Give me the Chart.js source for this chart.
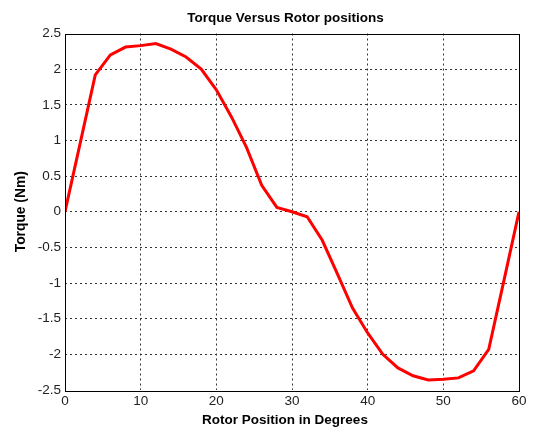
<!DOCTYPE html>
<html>
<head>
<meta charset="utf-8">
<script src="https://cdn.jsdelivr.net/npm/chart.js@4"></script>
<style>
  html, body { margin: 0; padding: 0; background: #fff; }
  #wrap { width: 533px; height: 428px; }
</style>
</head>
<body>
<div id="wrap"><canvas id="torqueChart" width="533" height="428"></canvas></div>
<script>
// Rotor position (degrees) and torque (Nm)
const positions = [0, 2, 4, 6, 8, 10, 12, 14, 16, 18, 20, 22, 24, 26, 28, 30, 32, 34, 36, 38, 40, 42, 44, 46, 48, 50, 52, 54, 56, 58, 60];
const torque = [0, 0.96, 1.92, 2.2, 2.31, 2.33, 2.36, 2.28, 2.17, 2.0, 1.71, 1.33, 0.9, 0.37, 0.06, 0.0, -0.07, -0.4, -0.87, -1.35, -1.7, -2.0, -2.19, -2.3, -2.36, -2.35, -2.33, -2.23, -1.93, -0.97, 0];
const xTicks = [0, 10, 20, 30, 40, 50, 60];
const yTicks = [2.5, 2, 1.5, 1, 0.5, 0, -0.5, -1, -1.5, -2, -2.5];

const chartTitle = 'Torque Versus Rotor positions';
const xTitle = 'Rotor Position in Degrees';
const yTitle = 'Torque (Nm)';

const FONT = 'Arial, "Liberation Sans"';

// hide grid lines on the box edges, the box is drawn solid
const innerGrid = c => (c.index === 0 || c.index === c.scale.ticks.length - 1) ? 'rgba(0,0,0,0)' : '#333';

const ctx = document.getElementById('torqueChart').getContext('2d');
new Chart(ctx, {
    type: 'line',
    data: {
        datasets: [{
            label: 'Torque',
            data: positions.map((p, i) => ({ x: p, y: torque[i] })),
            borderColor: '#ff0000',
            borderWidth: 3,
            pointRadius: 0,
            tension: 0,
            fill: false
        }]
    },
    options: {
        responsive: false,
        animation: false,
        layout: { padding: { left: 0, right: 14, top: 33.5, bottom: 0 } },
        plugins: {
            legend: { display: false },
            tooltip: { enabled: false },
            title: { display: false }
        },
        scales: {
            x: {
                type: 'linear',
                min: 0,
                max: 60,
                afterBuildTicks: s => { s.ticks = xTicks.map(v => ({ value: v })); },
                afterFit: s => { s.height = 38; },
                grid: { color: innerGrid, lineWidth: 1, drawTicks: false },
                border: { display: false, dash: [2, 3] },
                ticks: {
                    color: '#222',
                    padding: 3,
                    maxRotation: 0,
                    callback: v => `${v}`,
                    font: { family: FONT, size: 13.5 }
                },
                title: { display: false }
            },
            y: {
                type: 'linear',
                min: -2.5,
                max: 2.5,
                afterBuildTicks: s => { s.ticks = yTicks.map(v => ({ value: v })); },
                afterFit: s => { s.width = 65; },
                grid: { color: innerGrid, lineWidth: 1, drawTicks: false },
                border: { display: false, dash: [2, 3] },
                ticks: {
                    color: '#222',
                    padding: 4,
                    callback: v => `${v}`,
                    font: { family: FONT, size: 13.5 }
                },
                title: {
                    display: true,
                    text: yTitle,
                    color: '#000',
                    font: { family: FONT, size: 13.8, weight: 'bold' },
                    padding: { top: 13, bottom: 0 }
                }
            }
        }
    },
    plugins: [{
        // solid box round the plot area, chart title and x title
        id: 'plotBox',
        afterDatasetsDraw(chart) {
            const a = chart.chartArea;
            const c = chart.ctx;
            c.save();
            c.setLineDash([]);
            c.strokeStyle = '#000';
            c.lineWidth = 1;
            c.strokeRect(Math.round(a.left) + 0.5, Math.round(a.top) + 0.5,
                Math.round(a.right - a.left), Math.round(a.bottom - a.top));
            c.fillStyle = '#000';
            c.textAlign = 'center';
            c.textBaseline = 'middle';
            c.font = `bold 13.5px ${FONT}`;
            c.fillText(chartTitle, 285.5, 18);
            c.fillText(xTitle, 285, 420);
            c.restore();
        }
    }]
});
</script>
</body>
</html>
